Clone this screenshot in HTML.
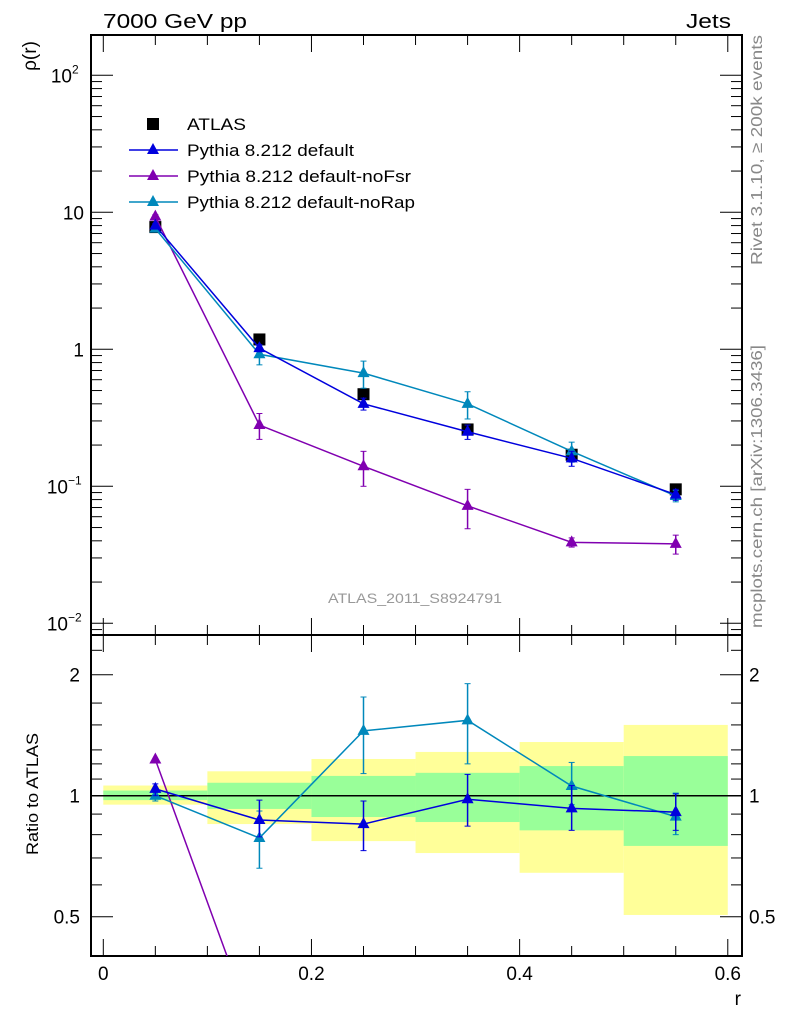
<!DOCTYPE html>
<html><head><meta charset="utf-8"><style>
body{margin:0;background:#fff}
svg{display:block;font-family:"Liberation Sans",sans-serif}
</style></head><body>
<svg id="chart" width="786" height="1024" viewBox="0 0 786 1024" xmlns="http://www.w3.org/2000/svg">
<g id="bands"></g>
<g id="axes"></g>
<g id="series"></g>
<text x="103" y="28" font-size="20" textLength="144" lengthAdjust="spacingAndGlyphs">7000 GeV pp</text>
<text x="686" y="28" font-size="20" textLength="45" lengthAdjust="spacingAndGlyphs">Jets</text>
<text transform="translate(36,56) rotate(-90)" font-size="19" text-anchor="middle">ρ(r)</text>
<text transform="translate(38,855) rotate(-90)" font-size="17" textLength="122" lengthAdjust="spacingAndGlyphs">Ratio to ATLAS</text>
<text x="741" y="1005" font-size="19" text-anchor="end">r</text>
<text x="328" y="603" font-size="14" fill="#999" textLength="174" lengthAdjust="spacingAndGlyphs">ATLAS_2011_S8924791</text>
<text transform="translate(762,265) rotate(-90)" font-size="16" fill="#888" textLength="230" lengthAdjust="spacingAndGlyphs">Rivet 3.1.10, ≥ 200k events</text>
<text transform="translate(762,628) rotate(-90)" font-size="16" fill="#888" textLength="283" lengthAdjust="spacingAndGlyphs">mcplots.cern.ch [arXiv:1306.3436]</text>
<g id="legend"></g>
</svg>
<script>
const rVals=[0.05,0.15,0.25,0.35,0.45,0.55];
const atlas=[7.8,1.18,0.47,0.26,0.17,0.095];
const defVals=[8.0,1.02,0.40,0.25,0.16,0.087];
const defErr=[0.3,0.06,0.04,0.03,0.02,0.008];
const noFsrVals=[9.3,0.28,0.14,0.072,0.039,0.038];
const noFsrErr=[0.3,0.06,0.04,0.023,0.003,0.006];
const noRapVals=[7.6,0.92,0.67,0.40,0.18,0.085];
const noRapErr=[0.3,0.15,0.15,0.09,0.03,0.008];
const ratioDef=[1.04,0.87,0.85,0.98,0.93,0.91];
const ratioDefLo=[1.0,0.79,0.73,0.84,0.82,0.82];
const ratioDefHi=[1.07,0.975,0.97,1.13,1.06,1.01];
const ratioNoRap=[1.0,0.785,1.45,1.54,1.057,0.887];
const ratioNoRapLo=[0.97,0.66,1.135,1.2,0.95,0.8];
const ratioNoRapHi=[1.02,0.916,1.76,1.9,1.21,1.015];
const ratioNoFsr=[1.23,0.24,0.3,0.28,0.23,0.3];
const binEdges=[0,0.1,0.2,0.3,0.4,0.5,0.6];
const yelLo=[0.95,0.85,0.771,0.72,0.643,0.505];
const yelHi=[1.06,1.15,1.234,1.285,1.36,1.5];
const grnLo=[0.975,0.927,0.885,0.86,0.82,0.75];
const grnHi=[1.03,1.077,1.12,1.14,1.185,1.255];
const xTickLabels=["0","0.2","0.4","0.6"];
const ratioTickLabels=["0.5","1","2"];

const NS="http://www.w3.org/2000/svg";
const L=91,R=742,T=35,MB=635,RB=956;
const X=r=>103.3+r*1040.8;
const YM=v=>349.3-137*Math.log10(v);
const YR=v=>795.7-121*Math.log2(v);
function mk(p,tag,a){const e=document.createElementNS(NS,tag);for(const k in a)e.setAttribute(k,a[k]);p.appendChild(e);return e;}
const axes=document.getElementById('axes'),ser=document.getElementById('series'),bands=document.getElementById('bands'),leg=document.getElementById('legend');

for(let i=0;i<6;i++){
 const x1=X(binEdges[i]),x2=X(binEdges[i+1]);
 let e=mk(bands,'rect',{x:x1,y:YR(yelHi[i]),width:x2-x1,height:YR(yelLo[i])-YR(yelHi[i]),fill:'#ffff99'});
 
 
 e=mk(bands,'rect',{x:x1,y:YR(grnHi[i]),width:x2-x1,height:YR(grnLo[i])-YR(grnHi[i]),fill:'#99ff99'});
 
 
}
let f=mk(axes,'rect',{x:L,y:T,width:R-L,height:MB-T,fill:'none',stroke:'#000','stroke-width':2});


f=mk(axes,'rect',{x:L,y:MB,width:R-L,height:RB-MB,fill:'none',stroke:'#000','stroke-width':2});


mk(axes,'line',{x1:L,x2:R,y1:YR(1),y2:YR(1),stroke:'#000','stroke-width':1.5});
for(let k=0;k<=12;k++){const r=k*0.05,x=X(r),maj=(k%4===0),len=maj?17:10;
 mk(axes,'line',{x1:x,x2:x,y1:T,y2:T+len,stroke:'#000'});
 mk(axes,'line',{x1:x,x2:x,y1:MB,y2:MB+len,stroke:'#000'});
 mk(axes,'line',{x1:x,x2:x,y1:MB,y2:MB-len,stroke:'#000'});
 mk(axes,'line',{x1:x,x2:x,y1:RB,y2:RB-len,stroke:'#000'});}
xTickLabels.forEach((s,i)=>{const t=mk(axes,'text',{x:X(i*0.2),y:980,'font-size':19,'text-anchor':'middle'});t.textContent=s;
 
 });
for(let d=-3;d<=2;d++){for(let m=1;m<10;m++){const v=m*Math.pow(10,d);const y=YM(v);if(y<T||y>MB)continue;const len=m===1?22:11;
 mk(axes,'line',{x1:L,x2:L+len,y1:y,y2:y,stroke:'#000'});mk(axes,'line',{x1:R,x2:R-len,y1:y,y2:y,stroke:'#000'});}}
[[2,'10','2'],[1,'10',''],[0,'1',''],[-1,'10','−1'],[-2,'10','−2']].forEach(([d,b,e])=>{const y0=YM(Math.pow(10,d));
 const t=mk(axes,'text',{x:e?(e.length>1?68:72):84,y:y0+7,'font-size':19,'text-anchor':'end'});t.textContent=b;
 
 
 if(e){const s=mk(axes,'text',{x:e.length>1?68:72,y:y0-2,'font-size':12});s.textContent=e;}});
[0.4,0.5,0.6,0.7,0.8,0.9,1,1.1,1.2,1.3,1.5,1.7,2,2.3].forEach(v=>{const y=YR(v);const maj=[0.5,1,2].includes(v),len=maj?22:11;
 mk(axes,'line',{x1:L,x2:L+len,y1:y,y2:y,stroke:'#000'});mk(axes,'line',{x1:R,x2:R-len,y1:y,y2:y,stroke:'#000'});});
ratioTickLabels.forEach(s=>{const v=parseFloat(s);let t=mk(axes,'text',{x:80,y:YR(v)+7,'font-size':19,'text-anchor':'end'});t.textContent=s;
 
 
 t=mk(axes,'text',{x:749,y:YR(v)+7,'font-size':19});t.textContent=s;
 
 });
const defs=mk(document.getElementById('chart'),'defs',{});
const cp=mk(defs,'clipPath',{id:'rclip'});mk(cp,'rect',{x:L,y:MB,width:R-L,height:RB-MB});
const rg=mk(ser,'g',{'clip-path':'url(#rclip)'});
function tri(p,x,y,c){return mk(p,'path',{d:`M${x},${y-7}L${x+6},${y+4}L${x-6},${y+4}Z`,fill:c});}
function series(p,vals,lo,hi,Y,c,name){
 const pts=vals.map((v,i)=>X(rVals[i])+','+Y(v)).join(' ');
 const pl=mk(p,'polyline',{points:pts,fill:'none',stroke:c,'stroke-width':1.5});
 
 
 vals.forEach((v,i)=>{const x=X(rVals[i]);
  if(lo){mk(p,'line',{x1:x,x2:x,y1:Y(lo[i]),y2:Y(hi[i]),stroke:c,'stroke-width':1.5});
   mk(p,'line',{x1:x-3,x2:x+3,y1:Y(lo[i]),y2:Y(lo[i]),stroke:c});mk(p,'line',{x1:x-3,x2:x+3,y1:Y(hi[i]),y2:Y(hi[i]),stroke:c});}
  const m=tri(p,x,Y(v),c);
  
  });}
const cDef='#0000dd',cFsr='#8000b0',cRap='#0088bb';
atlas.forEach((v,i)=>{const s=mk(ser,'rect',{x:X(rVals[i])-6,y:YM(v)-6,width:12,height:12,fill:'#000'});
 
 });
series(ser,noFsrVals,noFsrVals.map((v,i)=>v-noFsrErr[i]),noFsrVals.map((v,i)=>v+noFsrErr[i]),YM,cFsr,'nofsr');
series(ser,noRapVals,noRapVals.map((v,i)=>v-noRapErr[i]),noRapVals.map((v,i)=>v+noRapErr[i]),YM,cRap,'norap');
series(ser,defVals,defVals.map((v,i)=>v-defErr[i]),defVals.map((v,i)=>v+defErr[i]),YM,cDef,'default');
series(rg,ratioNoFsr,null,null,YR,cFsr,'ratio-nofsr');
series(rg,ratioNoRap,ratioNoRapLo,ratioNoRapHi,YR,cRap,'ratio-norap');
series(rg,ratioDef,ratioDefLo,ratioDefHi,YR,cDef,'ratio-default');
mk(leg,'rect',{x:147,y:118,width:12,height:12,fill:'#000'});
const legLabels=['ATLAS','Pythia 8.212 default','Pythia 8.212 default-noFsr','Pythia 8.212 default-noRap'];
const legColors=[null,cDef,cFsr,cRap];
const legLen=[59,167,224,228];
legLabels.forEach((s,i)=>{const y=124+i*26,c=legColors[i];
 if(c){mk(leg,'line',{x1:129,x2:178,y1:y,y2:y,stroke:c,'stroke-width':1.5});tri(leg,153,y,c);}
 const t=mk(leg,'text',{x:187,y:y+6,'font-size':17,textLength:legLen[i],lengthAdjust:'spacingAndGlyphs'});t.textContent=s;
 
 });
</script>
</body></html>
